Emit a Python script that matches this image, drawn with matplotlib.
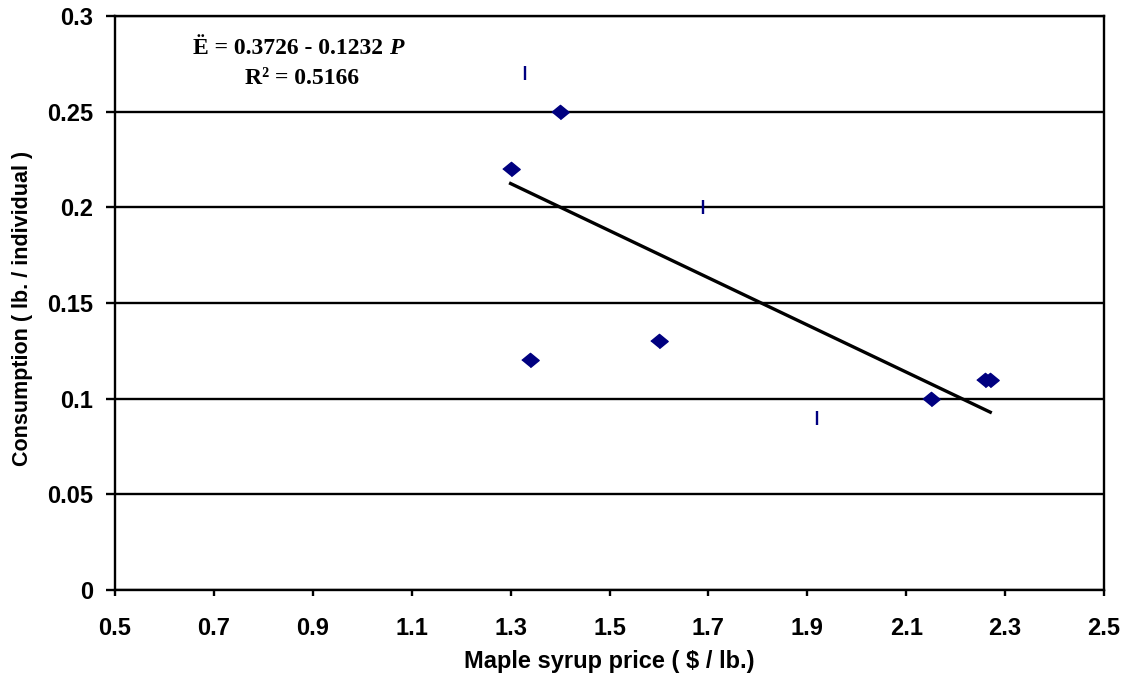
# %% Packages

import numpy as np
import matplotlib
matplotlib.use("Agg")
import matplotlib.pyplot as plt

# %% Data

# diamonds
price = [1.30, 1.40, 1.34, 1.60, 2.15, 2.26, 2.27]
consumption = [0.22, 0.25, 0.12, 0.13, 0.10, 0.11, 0.11]

# vertical dash markers
price_b = [1.33, 1.69, 1.92]
consumption_b = [0.27, 0.20, 0.09]

# trend line  E = a + b P
intercept = 0.3726
slope = -0.1232
r2 = 0.5166

x_ticks = [0.5, 0.7, 0.9, 1.1, 1.3, 1.5, 1.7, 1.9, 2.1, 2.3, 2.5]
y_ticks = [0, 0.05, 0.1, 0.15, 0.2, 0.25, 0.3]

# %% Plot

navy = "#000080"
sans = "Liberation Sans"
serif = "Liberation Serif"

fig = plt.figure(figsize=(11.27, 6.78), dpi=100)
ax = fig.add_axes([115/1127, 1 - 590/678, 989/1127, 574/678])

# horizontal grid
for yv in y_ticks:
    ax.axhline(yv, color="black", lw=1.7, zorder=1)

# trend line
xt = np.array([min(price), max(price)])
ax.plot(xt, intercept + slope*xt, color="black", lw=2.4, zorder=2)

diamond = [(-1, 0), (0, 0.82), (1, 0), (0, -0.82)]
ax.plot(price, consumption, ls="none", marker=diamond, ms=12.5,
        color=navy, mec=navy, zorder=3)
ax.plot(price_b, consumption_b, ls="none", marker="|", ms=9.5,
        mew=1.7, color=navy, zorder=3)

ax.set(xlim=(0.5, 2.5), ylim=(0, 0.3))
ax.set_xticks(x_ticks)
ax.set_xticklabels([f"{v:.1f}" for v in x_ticks])
ax.set_yticks(y_ticks)
ax.set_yticklabels([f"{v:g}" for v in y_ticks])

for s in ax.spines.values():
    s.set_linewidth(1.7)
ax.tick_params(axis="x", direction="out", length=4.5, width=1.7, pad=15)
ax.tick_params(axis="y", direction="out", length=6.5, width=1.7, pad=9)
for lab in ax.get_xticklabels() + ax.get_yticklabels():
    lab.set_fontfamily(sans)
    lab.set_fontweight("bold")
    lab.set_fontsize(17)

ax.set_xlabel("Maple syrup price ( $ / lb.)", family=sans,
              weight="bold", fontsize=17)
ax.set_ylabel("Consumption ( lb. / individual )", family=sans,
              weight="bold", fontsize=15.5)
ax.xaxis.set_label_coords(0.5, -0.125)
ax.xaxis.label.set_va("center")
ax.yaxis.set_label_coords(-0.094, 0.49)
ax.yaxis.label.set_va("center")

# equation
t1 = ax.text((193-115)/989, (590-48)/574, "Ë = 0.3726 - 0.1232 ",
             transform=ax.transAxes, ha="left", va="center",
             family=serif, weight="bold", fontsize=17)
ax.annotate("P", xy=(1, 0), xycoords=t1, ha="left", va="bottom",
            family=serif, weight="bold", style="italic", fontsize=17)
ax.text((302-115)/989, (590-78)/574, f"R² = {r2}",
        transform=ax.transAxes, ha="center", va="center",
        family=serif, weight="bold", fontsize=17)

fig.savefig("out.png", dpi=100)
